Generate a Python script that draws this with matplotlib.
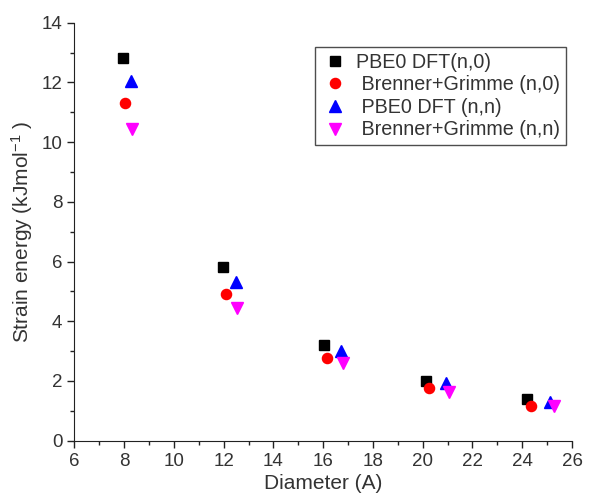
import matplotlib
matplotlib.use("Agg")
import matplotlib.pyplot as plt
from matplotlib.ticker import MultipleLocator

plt.rcParams["font.family"] = ["Liberation Sans", "DejaVu Sans"]
plt.rcParams["mathtext.default"] = "regular"

# values
x_pbe_n0 = [7.94, 11.98, 16.04, 20.12, 24.21]
y_pbe_n0 = [12.81, 5.83, 3.20, 2.00, 1.39]

x_bg_n0 = [8.03, 12.09, 16.16, 20.26, 24.34]
y_bg_n0 = [11.32, 4.90, 2.76, 1.75, 1.17]

x_pbe_nn = [8.26, 12.49, 16.70, 20.92, 25.13]
y_pbe_nn = [12.05, 5.30, 3.00, 1.92, 1.31]

x_bg_nn = [8.33, 12.55, 16.78, 21.05, 25.28]
y_bg_nn = [10.43, 4.43, 2.59, 1.64, 1.17]

labels = ["PBE0 DFT(n,0)", " Brenner+Grimme (n,0)",
          " PBE0 DFT (n,n)", " Brenner+Grimme (n,n)"]

fig = plt.figure(figsize=(6.07, 5.04), dpi=100)
ax = fig.add_axes([0.1224, 0.1256, 0.82, 0.8294])

ax.plot(x_pbe_n0, y_pbe_n0, "s", color="black", ms=7, ls="none", label=labels[0])
ax.plot(x_bg_n0, y_bg_n0, "o", color="red", ms=7.3, ls="none", label=labels[1])
ax.plot(x_pbe_nn, y_pbe_nn, "^", color="blue", ms=8.3, ls="none", label=labels[2])
ax.plot(x_bg_nn, y_bg_nn, "v", color="magenta", ms=8.3, ls="none", label=labels[3])

ax.set_xlim(6, 26)
ax.set_ylim(0, 14)
ax.xaxis.set_major_locator(MultipleLocator(2))
ax.xaxis.set_minor_locator(MultipleLocator(1))
ax.yaxis.set_major_locator(MultipleLocator(2))
ax.yaxis.set_minor_locator(MultipleLocator(1))
ax.tick_params(which="both", direction="out", labelsize=13.5, width=1, colors="#222222",
               labelcolor="#333333")
ax.tick_params(which="major", length=5)
ax.tick_params(which="minor", length=3)
ax.spines["top"].set_visible(False)
ax.spines["right"].set_visible(False)
for s in ["left", "bottom"]:
    ax.spines[s].set_color("#222222")

ax.set_xlabel("Diameter (A)", fontsize=15, color="#333333", labelpad=3)
ax.set_ylabel("Strain energy (kJmol$^{-1}$ )", fontsize=15, color="#333333", labelpad=5)

leg = ax.legend(loc="upper left", bbox_to_anchor=(0.483, 0.942), fontsize=14.2,
                frameon=True, fancybox=False, borderpad=0.3, handletextpad=0.3,
                labelspacing=0.18, handlelength=1.5, borderaxespad=0)
leg.get_frame().set_edgecolor("#222222")
leg.get_frame().set_linewidth(1)
for t in leg.get_texts():
    t.set_color("#333333")

fig.savefig("out.png", dpi=100)
